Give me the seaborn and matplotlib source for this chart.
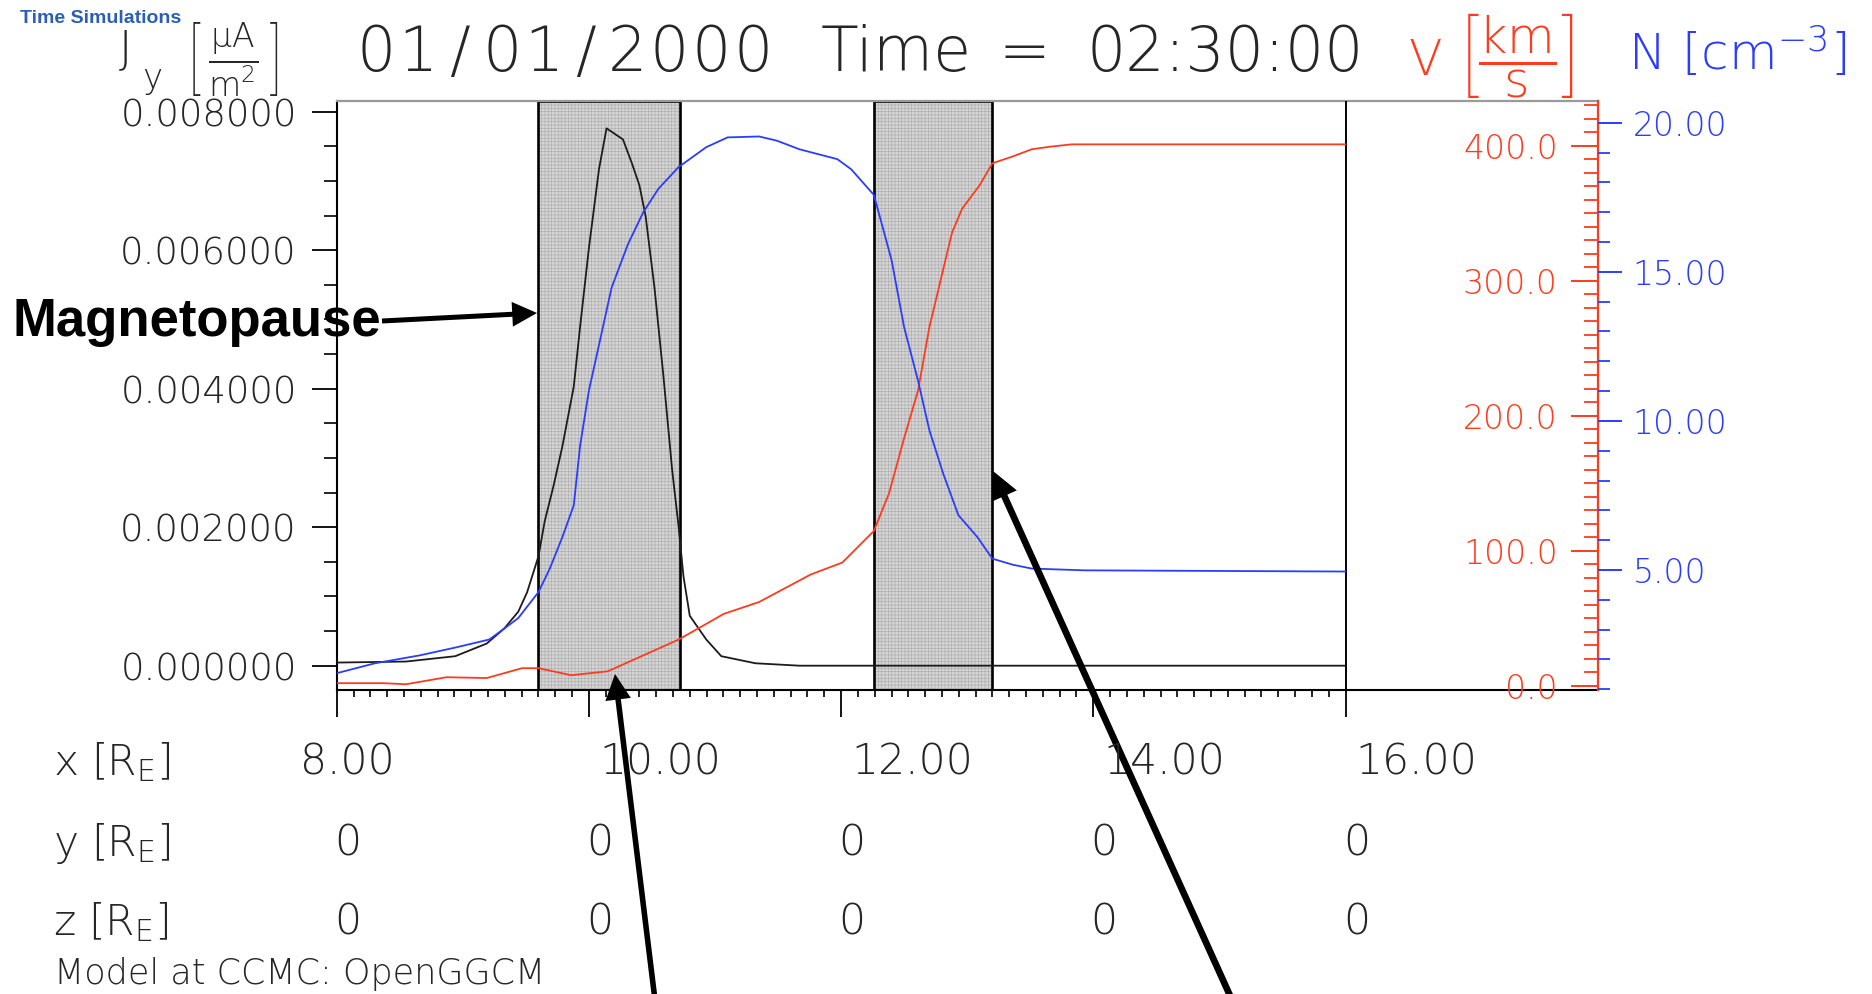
import matplotlib
matplotlib.use("Agg")
import matplotlib.pyplot as plt
from matplotlib.ticker import FixedLocator, MultipleLocator, FormatStrFormatter
from matplotlib.patches import FancyArrowPatch
from matplotlib.transforms import blended_transform_factory, offset_copy
import seaborn as sns

# ---------------- data ----------------
# position along the Sun-Earth line [R_E]
x_ticks = [8.0, 10.0, 12.0, 14.0, 16.0]
x_labels = ["8.00", "10.00", "12.00", "14.00", "16.00"]
y_labels = ["0", "0", "0", "0", "0"]
z_labels = ["0", "0", "0", "0", "0"]

# current density J_y [uA/m^2]
j_x = [8.00, 8.55, 8.94, 9.19, 9.33, 9.44, 9.51, 9.60, 9.65, 9.72, 9.79, 9.88,
       9.93, 10.00, 10.08, 10.14, 10.27, 10.34, 10.40, 10.45, 10.52, 10.59,
       10.66, 10.71, 10.75, 10.80, 10.93, 11.05, 11.32, 11.67, 16.00]
j_val = [0.000045, 0.00006, 0.000137, 0.00032, 0.00054, 0.00078, 0.00106,
         0.00158, 0.00209, 0.0026, 0.00317, 0.00403, 0.00489, 0.00603, 0.00717,
         0.00776, 0.0076, 0.00726, 0.00694, 0.00649, 0.00546, 0.0042, 0.00283,
         0.00203, 0.00129, 0.00072, 0.00038, 0.000137, 0.000035, 0.0, 0.0]

# plasma speed V [km/s]
v_x = [8.00, 8.37, 8.55, 8.87, 9.19, 9.47, 9.60, 9.86, 10.15, 10.43, 10.71,
       11.07, 11.35, 11.76, 12.01, 12.26, 12.38, 12.50, 12.61, 12.70, 12.79,
       12.88, 12.96, 13.10, 13.20, 13.36, 13.51, 13.66, 13.83, 16.00]
v_val = [2.1, 2.1, 1.3, 6.5, 5.9, 13.2, 13.2, 8.0, 10.9, 22.6, 34.3, 53.4,
         62.2, 82.6, 91.4, 114.8, 142.6, 183.6, 218.7, 265.6, 300.7, 335.8,
         353.4, 370.9, 387.0, 392.0, 397.3, 399.3, 401.0, 401.0]

# number density N [cm^-3]
n_x = [8.00, 8.30, 8.66, 8.94, 9.21, 9.33, 9.44, 9.60, 9.69, 9.79, 9.88, 9.93,
       10.00, 10.09, 10.18, 10.31, 10.43, 10.55, 10.71, 10.93, 11.10, 11.35,
       11.49, 11.67, 11.97, 12.08, 12.26, 12.40, 12.50, 12.61, 12.70, 12.81,
       12.93, 13.08, 13.20, 13.36, 13.51, 13.93, 16.00]
n_val = [1.54, 1.87, 2.14, 2.40, 2.67, 3.04, 3.39, 4.26, 5.05, 6.11, 7.17,
         9.16, 11.02, 12.74, 14.47, 15.93, 16.99, 17.78, 18.51, 19.18, 19.51,
         19.54, 19.40, 19.11, 18.78, 18.44, 17.58, 15.40, 13.14, 11.35, 9.69,
         8.23, 6.84, 6.11, 5.38, 5.18, 5.05, 4.99, 4.95]

# boundary layers (magnetopause, bow shock)
regions = [(9.60, 10.72), (12.26, 13.20)]

j_ticks = [0.0, 0.002, 0.004, 0.006, 0.008]
v_ticks = [0, 100, 200, 300, 400]
n_ticks = [5, 10, 15, 20]

RED = "#ff3b1e"
BLUE = "#2b3cff"
INK = "#262626"

# ---------------- style ----------------
sns.set_theme(style="white")
plt.rcParams["font.family"] = ["DejaVu Sans"]
plt.rcParams["font.weight"] = "ultralight"
plt.rcParams["mathtext.fontset"] = "custom"
plt.rcParams["mathtext.rm"] = "DejaVu Sans:weight=ultralight"
plt.rcParams["mathtext.it"] = "DejaVu Sans:italic:weight=ultralight"
plt.rcParams["mathtext.bf"] = "DejaVu Sans:bold"
plt.rcParams["hatch.linewidth"] = 0.4

W, H, DPI = 1872, 994, 100
fig = plt.figure(figsize=(W / DPI, H / DPI), dpi=DPI, facecolor="white")


def fx(px):
    return px / W


def fy(py):
    return 1.0 - py / H


PT = 72.0 / DPI  # points per pixel

L, R, T, B = 336.7, 1597.7, 101.0, 690.0
ax = fig.add_axes([fx(L), fy(B), fx(R) - fx(L), (B - T) / H])
ax.set_facecolor("none")

# shaded boundary regions with a fine grid texture
for a, b in regions:
    ax.axvspan(a, b, facecolor="#d4d4d4", edgecolor="#a9a9a9", hatch="+++++",
               lw=0, zorder=1)
    ax.axvspan(a, b, facecolor="none", edgecolor="black", lw=1.9, zorder=2)

# J_y on the left axis
sns.lineplot(x=j_x, y=j_val, ax=ax, color="#1c1c1c", linewidth=1.3,
             estimator=None, sort=False, legend=False, zorder=3)
ax.axvline(j_x[-1], color="black", lw=1.4, zorder=3)

ax.set_xlim(8, 18)
ax.set_ylim(-0.000351, 0.0081545)
ax.xaxis.set_major_locator(FixedLocator(x_ticks))
ax.xaxis.set_minor_locator(FixedLocator([8 + k * 2 / 15 for k in range(61)]))
ax.xaxis.set_major_formatter(plt.NullFormatter())
ax.yaxis.set_major_locator(FixedLocator(j_ticks))
ax.yaxis.set_minor_locator(MultipleLocator(0.0005))
ax.yaxis.set_major_formatter(FormatStrFormatter("%.6f"))
ax.tick_params(axis="x", which="major", direction="out", length=27 * PT,
               width=1.3, color="black", bottom=True)
ax.tick_params(axis="x", which="minor", direction="out", length=7 * PT,
               width=1.2, color="black", bottom=True)
ax.tick_params(axis="y", which="major", direction="out", length=25 * PT,
               width=1.3, color="black", left=True, labelsize=37 * PT,
               labelcolor=INK, pad=15 * PT)
ax.tick_params(axis="y", which="minor", direction="out", length=13 * PT,
               width=1.2, color="black", left=True)
ax.set_xlabel("")
ax.set_ylabel("")
for side in ("left", "bottom"):
    ax.spines[side].set_color("black")
    ax.spines[side].set_linewidth(1.5)
ax.spines["top"].set_color("#9a9a9a")
ax.spines["top"].set_linewidth(1.6)
ax.spines["right"].set_visible(False)

# V on the red inner right axis
axv = ax.twinx()
axv.set_facecolor("none")
sns.lineplot(x=v_x, y=v_val, ax=axv, color=RED, linewidth=1.3,
             estimator=None, sort=False, legend=False)
axv.set_ylim(-2.96, 433.09)
axv.yaxis.set_major_locator(FixedLocator(v_ticks))
axv.yaxis.set_minor_locator(MultipleLocator(10))
axv.yaxis.set_major_formatter(FormatStrFormatter("%.1f"))
axv.tick_params(axis="y", which="major", direction="in", length=27 * PT,
                width=1.4, color=RED, labelcolor=RED, labelsize=33 * PT,
                pad=-40 * PT, right=True)
axv.tick_params(axis="y", which="minor", direction="in", length=14 * PT,
                width=1.3, color=RED, right=True)
plt.setp(axv.get_yticklabels(), ha="right")
axv.set_ylabel("")
for side in ("left", "top", "bottom"):
    axv.spines[side].set_visible(False)
axv.spines["right"].set_color(RED)
axv.spines["right"].set_linewidth(1.6)

# N on the blue outer right axis
axn = ax.twinx()
axn.set_facecolor("none")
sns.lineplot(x=n_x, y=n_val, ax=axn, color=BLUE, linewidth=1.3,
             estimator=None, sort=False, legend=False)
axn.set_ylim(0.977, 20.73)
axn.yaxis.set_major_locator(FixedLocator(n_ticks))
axn.yaxis.set_minor_locator(MultipleLocator(1))
axn.yaxis.set_major_formatter(FormatStrFormatter("%.2f"))
axn.tick_params(axis="y", which="major", direction="out", length=24 * PT,
                width=1.4, color=BLUE, labelcolor=BLUE, labelsize=33 * PT,
                pad=11 * PT, right=True)
axn.tick_params(axis="y", which="minor", direction="out", length=12 * PT,
                width=1.3, color=BLUE, right=True)
axn.set_ylabel("")
for side in ("left", "top", "bottom", "right"):
    axn.spines[side].set_visible(False)

# ---------------- header ----------------
fig.text(fx(20), fy(23), "Time Simulations", family="Liberation Sans",
         weight="bold", fontsize=14, color="#2a5fb5", va="baseline")


def put(px, py, s, size_px, **kw):
    kw.setdefault("color", INK)
    kw.setdefault("va", "baseline")
    return fig.text(fx(px), fy(py), s, fontsize=size_px * PT, **kw)


# J_y [uA / m^2]
put(119, 62, "J", 45)
put(142, 88, "y", 34)
fig.text(fx(186), fy(59),
         r"$\left[\;\dfrac{\mathrm{\mu A}}{\mathrm{m}^{2}}\;\right]$",
         fontsize=33 * PT, color=INK, va="center", ha="left")

title_px = 61.7
date = "01/01/2000"
for i, ch in enumerate(date):
    put(376 + i * 41.9, 71, ch, title_px, ha="center")
put(821, 71, "Time", title_px)
put(1024, 71, "=", title_px, ha="center")
put(1086, 71, "02:30:00", title_px)

fig.text(fx(1408), fy(55),
         r"V $\left[\dfrac{\mathrm{km}}{\mathrm{s}}\right]$",
         fontsize=49 * PT, color=RED, va="center", ha="left")
put(1628, 70, r"N [cm$^{-3}$]", 50, color=BLUE)

# ---------------- coordinate table under the axis ----------------
col_tr = blended_transform_factory(ax.transData, fig.transFigure)
row_font = 42.5 * PT
rows = [(r"x [R$_\mathrm{E}$]", x_labels, 762),
        (r"y [R$_\mathrm{E}$]", y_labels, 843),
        (r"z [R$_\mathrm{E}$]", z_labels, 922)]
for name, labels, ypx in rows:
    fig.text(fx(53), fy(ypx), name, fontsize=row_font, color=INK,
             va="center", ha="left")
    for k, (xt, lab) in enumerate(zip(x_ticks, labels)):
        if name.startswith("x") and k > 0:
            tr = offset_copy(col_tr, fig=fig, x=10, y=0, units="dots")
            ha = "left"
        else:
            tr = offset_copy(col_tr, fig=fig, x=11, y=0, units="dots")
            ha = "center"
        fig.text(xt, fy(ypx), lab, transform=tr, fontsize=row_font,
                 color=INK, va="center", ha=ha)

fig.text(fx(54), fy(974), "Model at CCMC: OpenGGCM", fontsize=35 * PT,
         color=INK, va="center", ha="left")

# ---------------- annotations ----------------
fig.text(fx(12), fy(336), "Magnetopause", family="Liberation Sans",
         weight="bold", fontsize=38, color="black", va="baseline", ha="left")


def arrow(tail, tip, lw):
    fig.add_artist(FancyArrowPatch(
        (fx(tail[0]), fy(tail[1])), (fx(tip[0]), fy(tip[1])),
        transform=fig.transFigure, arrowstyle="-|>,head_length=12,head_width=6",
        mutation_scale=1, lw=lw, color="black", shrinkA=0, shrinkB=0,
        joinstyle="miter", capstyle="butt"))


arrow((382, 321), (537, 313), 3.6)
arrow((655, 1000), (615, 674), 4.0)
arrow((1232, 1000), (993, 471), 4.8)

fig.savefig("out.png", dpi=DPI, facecolor="white")
